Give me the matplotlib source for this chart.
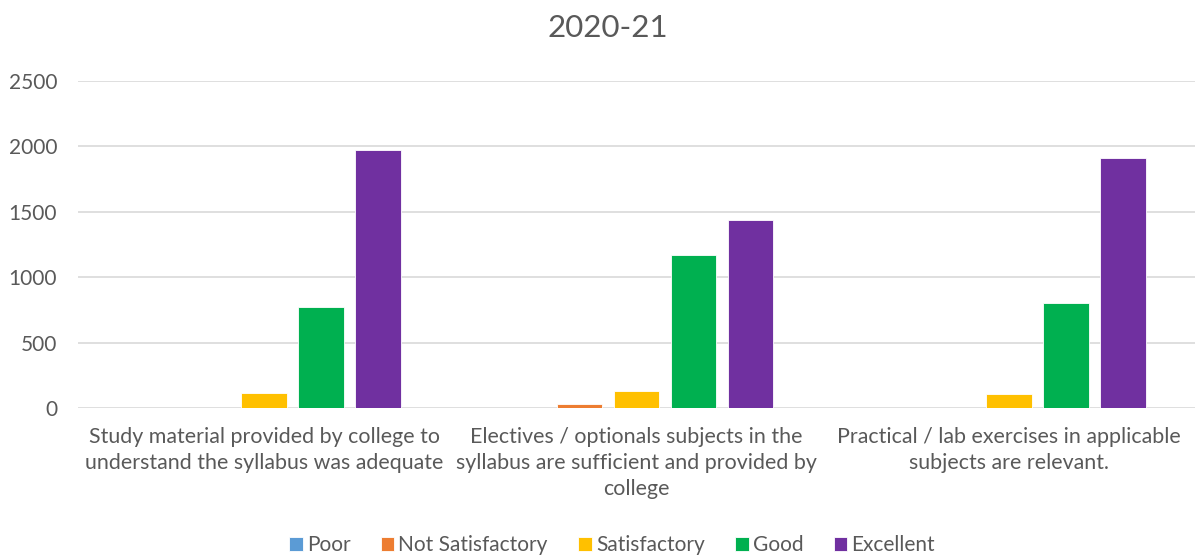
import matplotlib
matplotlib.use("Agg")
import matplotlib.pyplot as plt
import numpy as np

categories = [
    "Study material provided by college to\nunderstand the syllabus was adequate",
    "Electives / optionals subjects in the\nsyllabus are sufficient and provided by\ncollege",
    "Practical / lab exercises in applicable\nsubjects are relevant.",
]
series_names = ["Poor", "Not Satisfactory", "Satisfactory", "Good", "Excellent"]
poor = [0, 0, 0]
not_satisfactory = [0, 33, 0]
satisfactory = [114, 127, 110]
good = [775, 1170, 801]
excellent = [1971, 1437, 1913]
yticks = [0, 500, 1000, 1500, 2000, 2500]
title = "2020-21"

colors = ["#5B9BD5", "#ED7D31", "#FFC000", "#00B050", "#7030A0"]
text_color = "#595959"
font = ["Lato", "DejaVu Sans"]
plt.rcParams["font.family"] = font

fig = plt.figure(figsize=(12.03, 5.57), dpi=100)
ax = fig.add_axes([78 / 1203, 1 - 408 / 557, (1195 - 78) / 1203, (408 - 80.7) / 557])

x = np.arange(len(categories))
width = 0.1225
step = 0.153
all_series = [poor, not_satisfactory, satisfactory, good, excellent]
for i, (name, vals, c) in enumerate(zip(series_names, all_series, colors)):
    ax.bar(x + (i - 2) * step, vals, width, color=c, label=name,
           edgecolor="white", linewidth=0.6, zorder=3)

ax.set_xlim(-0.5, 2.5)
ax.set_ylim(0, 2500)
ax.set_yticks(yticks)
ax.set_yticklabels([str(v) for v in yticks])
ax.set_xticks(x)
ax.set_xticklabels(categories, linespacing=1.37)
ax.grid(axis="y", color="#D9D9D9", linewidth=1.2, zorder=0)
for s in ax.spines.values():
    s.set_visible(False)
ax.tick_params(axis="y", length=0, pad=15, labelsize=15, labelcolor=text_color)
ax.tick_params(axis="x", length=0, pad=14, labelsize=15.4, labelcolor=text_color)

fig.text(608 / 1203, 1 - 28 / 557, title, ha="center", va="center",
         fontsize=22.5, color=text_color)

leg = fig.legend(loc="center", bbox_to_anchor=(612 / 1203, 1 - 545 / 557), ncol=5,
                 frameon=False, handlelength=0.66, handleheight=0.66,
                 handletextpad=0.2, columnspacing=1.45, fontsize=15)
for t in leg.get_texts():
    t.set_color(text_color)

fig.savefig("out.png", dpi=100)
